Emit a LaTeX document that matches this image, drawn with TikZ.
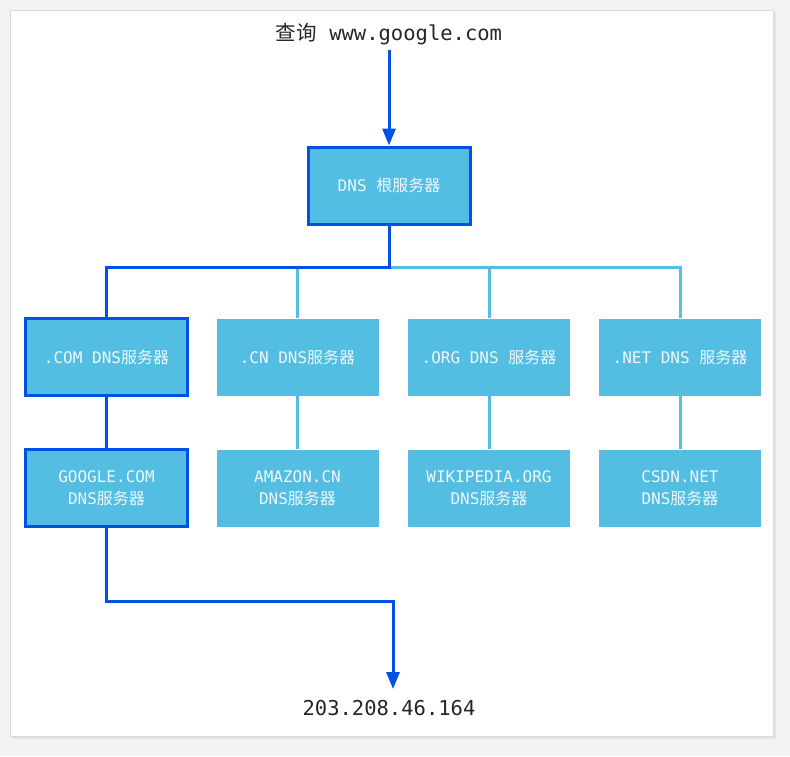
\documentclass[tikz,border=0pt]{standalone}
\usepackage{fontspec}
\setmonofont{DejaVu Sans Mono}
\newfontfamily\cjk{Noto Sans CJK SC}
\usetikzlibrary{arrows.meta}
\definecolor{boxfill}{HTML}{54BDE2}
\definecolor{darkline}{HTML}{0052E4}
\definecolor{lightline}{HTML}{55BFE3}
\definecolor{boxtext}{HTML}{EEF8FC}
\newcommand{\zh}[1]{{\cjk #1}}
\tikzset{
  dnsbox/.style={rectangle, fill=boxfill, minimum width=162pt, minimum height=77pt,
    text=boxtext, font=\ttfamily\fontsize{16}{22}\selectfont, align=center, inner sep=0pt},
  hotbox/.style={dnsbox, draw=darkline, line width=3pt},
  darkconn/.style={draw=darkline, line width=3pt},
  lightconn/.style={draw=lightline, line width=3pt},
  plaintext/.style={font=\ttfamily\fontsize{20.5}{24}\selectfont, text=black!85, inner sep=2pt},
  arrowtip/.style={-{Triangle[width=13pt,length=17pt]}}
}
\begin{document}
\begin{tikzpicture}[x=1pt,y=-1pt]
\fill[gray!10] (0,0) rectangle (790,756);
\fill[gray!22] (12,12) rectangle (776,739);
\fill[white, draw=gray!30, line width=0.8pt] (10,10) rectangle (773,736);
\useasboundingbox (0,0) rectangle (790,756);

\node[plaintext] (query) at (389,34) {\zh{查询} www.google.com};
\node[hotbox] (root) at (389,185.5) {DNS \zh{根服务器}};

\node[hotbox] (com) at (106.5,357) {.COM DNS\zh{服务器}};
\node[dnsbox] (cn) at (297.5,357) {.CN DNS\zh{服务器}};
\node[dnsbox] (org) at (489,357) {.ORG DNS \zh{服务器}};
\node[dnsbox] (net) at (680,357) {.NET DNS \zh{服务器}};

\node[hotbox] (google) at (106.5,488) {GOOGLE.COM\\DNS\zh{服务器}};
\node[dnsbox] (amazon) at (297.5,488) {AMAZON.CN\\DNS\zh{服务器}};
\node[dnsbox] (wiki) at (489,488) {WIKIPEDIA.ORG\\DNS\zh{服务器}};
\node[dnsbox] (csdn) at (680,488) {CSDN.NET\\DNS\zh{服务器}};

\node[plaintext] (result) at (389,708) {203.208.46.164};

\coordinate (bus) at (389,267);
\coordinate (resin) at (393,689);
\coordinate (qout) at (389,50);

% light connectors
\draw[lightconn] (bus) -| (net.north);
\draw[lightconn] (cn.north) -- (cn.north |- bus);
\draw[lightconn] (org.north) -- (org.north |- bus);
\draw[lightconn] (cn.south) -- (amazon.north);
\draw[lightconn] (org.south) -- (wiki.north);
\draw[lightconn] (net.south) -- (csdn.north);

% dark connectors
\draw[darkconn, arrowtip] (qout) -- (root.north);
\draw[darkconn] (root.south) -- (bus) -| (com.north);
\draw[darkconn] (com.south) -- (google.north);
\draw[darkconn, arrowtip] (google.south) -- ++(0,73) -| (resin);
\end{tikzpicture}
\end{document}
